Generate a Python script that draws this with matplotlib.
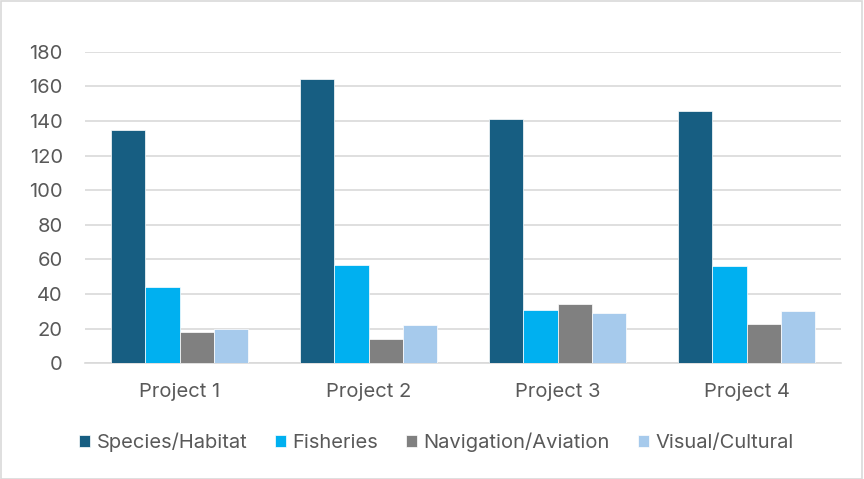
import numpy as np
import matplotlib.pyplot as plt
from matplotlib.patches import Rectangle

projects = ['Project 1', 'Project 2', 'Project 3', 'Project 4']
species = [135, 164, 141, 146]
fisheries = [44, 57, 31, 56]
navigation = [18, 14, 34, 23]
visual = [20, 22, 29, 30]

series = [('Species/Habitat', species, '#175E82'),
          ('Fisheries', fisheries, '#00B0F0'),
          ('Navigation/Aviation', navigation, '#808080'),
          ('Visual/Cultural', visual, '#A6CAEC')]

plt.rcParams['font.family'] = ['Inter', 'DejaVu Sans']

fig = plt.figure(figsize=(8.64, 4.79), dpi=100)
ax = fig.add_axes([0.0984, 0.2415, 0.875, 0.6505])

x = np.arange(len(projects))
w = 0.18
for j, (name, vals, col) in enumerate(series):
    ax.bar(x + (j - 1.5) * w, vals, w, color=col, label=name,
           edgecolor='white', linewidth=0.5, zorder=3)

ax.set_xlim(-0.5, 3.5)
ax.set_ylim(0, 180)
ax.set_yticks(range(0, 181, 20))
ax.set_xticks(x)
ax.set_xticklabels(projects)
ax.grid(axis='y', color='#D9D9D9', linewidth=1.2, zorder=0)
for s in ['top', 'right', 'left']:
    ax.spines[s].set_visible(False)
ax.spines['bottom'].set_color('#D9D9D9')
ax.spines['bottom'].set_linewidth(1.2)
ax.tick_params(axis='both', length=0, labelsize=14.5, labelcolor='#595959')
ax.tick_params(axis='x', pad=14)
ax.tick_params(axis='y', pad=16)

fig.legend(loc='center', bbox_to_anchor=(0.505, 0.076), ncol=4, frameon=False,
           fontsize=14.5, labelcolor='#595959', handlelength=0.55, handleheight=0.55,
           handletextpad=0.3, columnspacing=1.4)

fig.patches.append(Rectangle((0.001, 0.001), 0.997, 0.997, transform=fig.transFigure,
                             fill=False, edgecolor='#D9D9D9', linewidth=1.2))

fig.savefig('out.png', dpi=100)
